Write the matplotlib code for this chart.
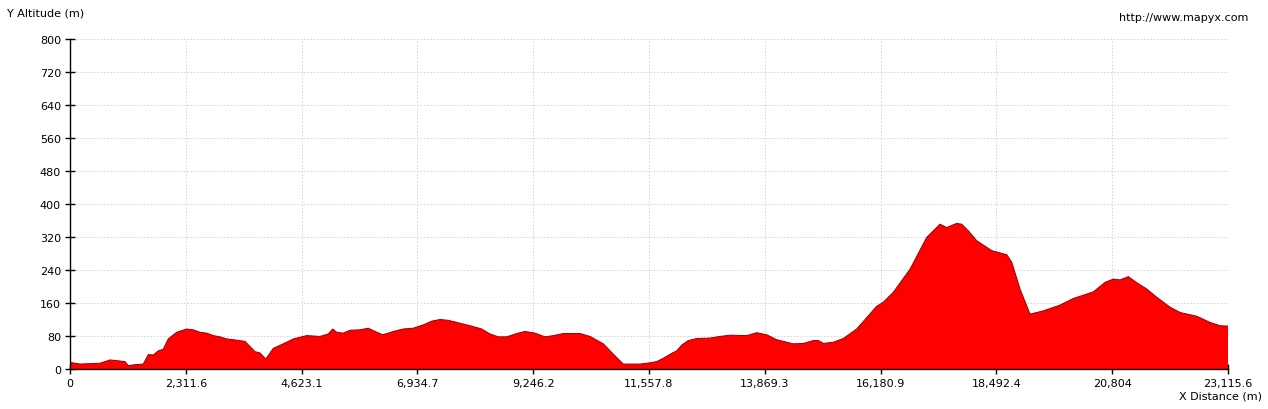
import matplotlib
matplotlib.use("Agg")
import matplotlib.pyplot as plt
from matplotlib.ticker import FixedLocator, FixedFormatter

distance_m = [0, 200, 599, 798, 1098, 1164, 1264, 1463, 1563, 1663, 1763, 1862, 1962, 2130,
              2329, 2461, 2595, 2729, 2861, 2994, 3128, 3260, 3493, 3693, 3793, 3907, 4058,
              4326, 4458, 4725, 4991, 5156, 5244, 5324, 5456, 5589, 5789, 5955, 6054, 6242,
              6454, 6653, 6853, 7053, 7220, 7386, 7552, 7719, 7985, 8218, 8384, 8550, 8717,
              8917, 9083, 9282, 9482, 9648, 9848, 10181, 10380, 10646, 10846, 11045, 11378,
              11578, 11711, 11843, 12011, 12111, 12211, 12342, 12510, 12776, 12976, 13175,
              13508, 13708, 13908, 14107, 14439, 14639, 14839, 14939, 15039, 15237, 15437,
              15704, 16103, 16236, 16435, 16768, 17101, 17367, 17501, 17700, 17800, 17932,
              18100, 18399, 18699, 18799, 18964, 19164, 19430, 19763, 20028, 20428, 20661,
              20827, 20960, 21126, 21309, 21493, 21693, 21958, 22158, 22492, 22757, 22957,
              23115.6]
altitude_m = [16, 12, 14, 22, 18, 8, 10, 12, 35, 34, 44, 48, 73, 89,
              97, 95, 89, 87, 81, 78, 73, 71, 67, 42, 39, 24, 50,
              65, 73, 81, 79, 85, 97, 89, 87, 94, 95, 99, 93, 83,
              91, 97, 99, 107, 116, 120, 118, 113, 105, 97, 85, 78, 78,
              86, 91, 87, 78, 81, 86, 86, 79, 61, 36, 12, 12,
              15, 18, 26, 38, 44, 58, 69, 74, 75, 79, 82,
              81, 88, 83, 71, 61, 62, 69, 69, 62, 65, 74,
              97, 152, 162, 186, 242, 319, 351, 343, 353, 351, 335,
              311, 287, 277, 259, 194, 133, 141, 155, 171, 187, 210,
              218, 216, 224, 208, 194, 174, 150, 137, 128, 113, 105,
              104]

x_ticks = [0, 2311.6, 4623.1, 6934.7, 9246.2, 11557.8, 13869.3, 16180.9, 18492.4, 20804, 23115.6]
x_tick_labels = ["0", "2,311.6", "4,623.1", "6,934.7", "9,246.2", "11,557.8", "13,869.3",
                 "16,180.9", "18,492.4", "20,804", "23,115.6"]
y_ticks = [0, 80, 160, 240, 320, 400, 480, 560, 640, 720, 800]

W, H = 1268, 410
fig = plt.figure(figsize=(W / 100, H / 100), dpi=100)
ax = fig.add_axes([70 / W, (H - 370) / H, (1228 - 70) / W, 330 / H])

ax.fill_between(distance_m, altitude_m, 0, facecolor="#FF0000", edgecolor="none", zorder=2)
ax.plot(distance_m, altitude_m, color="#990000", lw=0.7, zorder=3)

ax.set_xlim(0, 23115.6)
ax.set_ylim(0, 800)
ax.xaxis.set_major_locator(FixedLocator(x_ticks))
ax.xaxis.set_major_formatter(FixedFormatter(x_tick_labels))
ax.set_yticks(y_ticks)
ax.set_yticklabels([str(v) for v in y_ticks])

ax.grid(True, color="#D0D0D0", linestyle=(0, (2, 2)), linewidth=0.6, zorder=0)
ax.set_axisbelow(True)
for s in ["top", "right"]:
    ax.spines[s].set_visible(False)
for s in ["left", "bottom"]:
    ax.spines[s].set_color("black")
    ax.spines[s].set_linewidth(1.0)
    ax.spines[s].set_zorder(4)

ax.tick_params(axis="both", direction="inout", length=7, width=1, color="black",
               labelsize=8, labelcolor="black", pad=3)

fig.text(7 / W, 1 - 13 / H, "Y Altitude (m)", fontsize=8, ha="left", va="center")
fig.text(1248 / W, 1 - 18 / H, "http://www.mapyx.com", fontsize=8, ha="right", va="center")
fig.text(1262 / W, 1 - 397 / H, "X Distance (m)", fontsize=8, ha="right", va="center")

fig.savefig("out.png", dpi=100, facecolor="white")
